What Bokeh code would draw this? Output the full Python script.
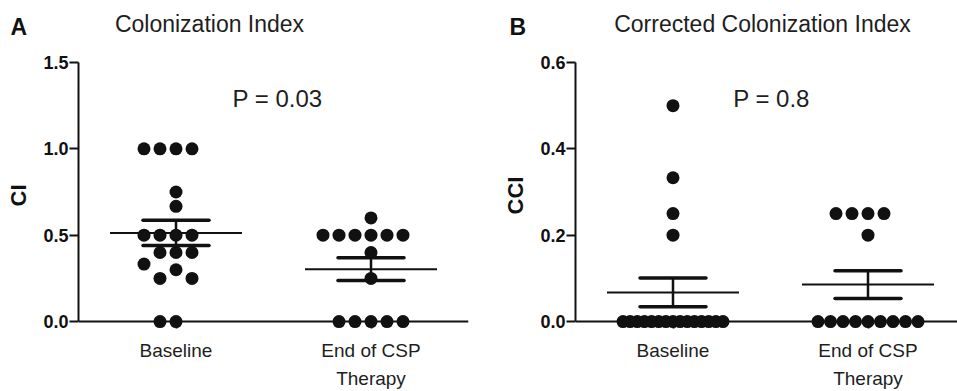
from bokeh.plotting import figure
from bokeh.models import Range1d, FixedTicker, NumeralTickFormatter, Label, Span, ColumnDataSource
from bokeh.layouts import row, column
from bokeh.embed import file_html
from bokeh.resources import INLINE
import numpy as np

# ---------------- data ----------------
categories = ["Baseline", "End of CSP\nTherapy"]

ci_baseline = [1.0, 1.0, 1.0, 1.0, 0.75, 0.667, 0.5, 0.5, 0.5, 0.5,
               0.4, 0.4, 0.4, 0.333, 0.3, 0.25, 0.25, 0.0, 0.0]
ci_end = [0.6, 0.5, 0.5, 0.5, 0.5, 0.5, 0.5, 0.4, 0.25,
          0.0, 0.0, 0.0, 0.0, 0.0]

cci_baseline = [0.5, 0.333, 0.25, 0.2] + [0.0] * 15
cci_end = [0.25, 0.25, 0.25, 0.25, 0.2] + [0.0] * 9

ci_ticks = [0.0, 0.5, 1.0, 1.5]
cci_ticks = [0.0, 0.2, 0.4, 0.6]

panel_letters = ["A", "B"]
panel_titles = ["Colonization Index", "Corrected Colonization Index"]
y_labels = ["CI", "CCI"]
p_values = ["P = 0.03", "P = 0.8"]

# ---------------- style / layout ----------------
FONT = "Liberation Sans"
INK = "#111111"
TXT = "#1e1e1e"
PX_X = 195.0          # pixels per category unit
DOT = 13              # marker diameter (px)
STEP = 16.0           # spacing of dots in a row (px)
MAXW = 100.0          # max width of a row of dots (px)
COLL = 13.0           # collision distance (px)
PAD_PX = 7.0          # frame padding below zero (px)
HEADER_H = 44
PANEL_H = 347
ZERO_PX = 323.0       # page y of value 0
TOP_PX = 62.0         # page y of the top tick
LBL_SHIFT = 9         # label anchor correction (px)


def swarm_offsets(vals, px_y):
    """Greedy dot-plot layout: returns x offsets (in px) for each value."""
    vals = list(vals)
    offs = [0.0] * len(vals)
    placed = []
    for v in sorted(set(vals), reverse=True):
        idx = [i for i in range(len(vals)) if vals[i] == v]
        n = len(idx)
        step = STEP if n == 1 else min(STEP, MAXW / (n - 1))
        cand = [0]
        for k in range(1, 40):
            cand += [-k, k]
        used = set()
        new = []
        for i in idx:
            for k in cand:
                if k in used:
                    continue
                x = k * step
                y = v * px_y
                if all(((x - px) ** 2 + (y - py) ** 2) ** 0.5 >= COLL for px, py in placed):
                    used.add(k)
                    offs[i] = x
                    new.append((x, y))
                    break
        placed += new
    return offs


def panel(groups, ticks, ylabel, pval, width, frame_left, frame_right, p_pos):
    ymax = ticks[-1]
    px_y = (ZERO_PX - TOP_PX) / ymax
    pad = PAD_PX / px_y
    fig_left = frame_left[1]
    x_end = 0.5 + (frame_right - frame_left[0]) / PX_X
    p = figure(width=width, height=PANEL_H,
               x_range=Range1d(0.5, x_end), y_range=Range1d(-pad, ymax),
               output_backend="svg", toolbar_location=None,
               min_border_left=frame_left[0] - fig_left,
               min_border_right=fig_left + width - frame_right,
               min_border_top=int(TOP_PX - HEADER_H),
               min_border_bottom=int(PANEL_H - (ZERO_PX + PAD_PX - HEADER_H)))
    p.grid.visible = False
    p.outline_line_color = None
    p.background_fill_color = "white"
    p.border_fill_color = "white"

    xs_all, ys_all = [], []
    means, sems = [], []
    for j, vals in enumerate(groups):
        offs = swarm_offsets(vals, px_y)
        xs_all += [j + 1 + o / PX_X for o in offs]
        ys_all += list(vals)
        arr = np.array(vals, dtype=float)
        means.append(arr.mean())
        sems.append(arr.std(ddof=1) / np.sqrt(len(arr)))

    src = ColumnDataSource(dict(x=xs_all, y=ys_all))
    p.scatter("x", "y", source=src, size=DOT, fill_color=INK, line_color=INK, line_width=0)

    cx = np.arange(1, len(groups) + 1, dtype=float)
    means = np.array(means)
    sems = np.array(sems)
    half_mean = 66 / PX_X
    half_cap = 33 / PX_X
    p.segment(x0=cx - half_mean, x1=cx + half_mean, y0=means, y1=means,
              line_color=INK, line_width=2)
    p.segment(x0=cx, x1=cx, y0=means - sems, y1=means + sems,
              line_color=INK, line_width=2.5)
    p.segment(x0=np.concatenate([cx - half_cap, cx - half_cap]),
              x1=np.concatenate([cx + half_cap, cx + half_cap]),
              y0=np.concatenate([means + sems, means - sems]),
              y1=np.concatenate([means + sems, means - sems]),
              line_color=INK, line_width=3.5, line_cap="round")

    # zero line acting as x axis line
    p.add_layout(Span(location=0, dimension="width", line_color=INK, line_width=2))

    # x axis
    xa = p.xaxis[0]
    xa.ticker = FixedTicker(ticks=list(cx))
    ov = {}
    for c, lab in zip(cx, categories):
        ov[float(c)] = lab
        ov[int(c)] = lab
    xa.major_label_overrides = ov
    xa.axis_line_color = None
    xa.major_tick_in = int(PAD_PX)
    xa.major_tick_out = 0
    xa.major_tick_line_width = 2
    xa.major_tick_line_color = INK
    xa.minor_tick_line_color = None
    xa.major_label_text_font = FONT
    xa.major_label_text_font_size = "19px"
    xa.major_label_text_color = TXT
    xa.major_label_text_line_height = 1.35
    xa.major_label_standoff = 11

    # y axis
    ya = p.yaxis[0]
    ya.ticker = FixedTicker(ticks=ticks)
    ya.formatter = NumeralTickFormatter(format="0.0")
    ya.bounds = (0, ymax)
    ya.axis_line_width = 2
    ya.axis_line_color = INK
    ya.major_tick_in = 0
    ya.major_tick_out = 9
    ya.major_tick_line_width = 2
    ya.major_tick_line_color = INK
    ya.minor_tick_line_color = None
    ya.major_label_standoff = 1
    ya.major_label_text_font = FONT
    ya.major_label_text_font_style = "bold"
    ya.major_label_text_font_size = "18px"
    ya.major_label_text_color = INK
    ya.axis_label = ylabel
    ya.axis_label_text_font = FONT
    ya.axis_label_text_font_style = "bold"
    ya.axis_label_text_font_size = "22px"
    ya.axis_label_text_color = INK
    ya.axis_label_standoff = 9

    # P value, positioned from page pixels converted to data space
    px, py = p_pos
    py -= LBL_SHIFT
    p.add_layout(Label(x=0.5 + (px - frame_left[0]) / PX_X, y=(ZERO_PX - py) / px_y, text=pval,
                       text_font=FONT, text_font_size="24px", text_color=TXT,
                       text_align="center", text_baseline="alphabetic"))
    return p


# header with panel letters and titles (page pixel space)
header = figure(width=957, height=HEADER_H, title=None,
                x_range=Range1d(0, 957), y_range=Range1d(HEADER_H, 0),
                output_backend="svg", toolbar_location=None, x_axis_type=None, y_axis_type=None,
                min_border=0, min_border_left=0, min_border_right=0, min_border_top=0, min_border_bottom=0)
header.grid.visible = False
header.outline_line_color = None
header.border_fill_color = "white"
letter_pos = [(10, 35), (509, 35)]
title_pos = [(209, 32), (762, 32)]
for letter, lp, title, tp in zip(panel_letters, letter_pos, panel_titles, title_pos):
    header.add_layout(Label(x=lp[0], y=lp[1] - LBL_SHIFT, text=letter, text_font=FONT,
                            text_font_style="bold", text_font_size="23px", text_color=INK,
                            text_align="left", text_baseline="alphabetic"))
    header.add_layout(Label(x=tp[0], y=tp[1] - LBL_SHIFT, text=title, text_font=FONT,
                            text_font_size="23px", text_color=TXT, text_align="center",
                            text_baseline="alphabetic"))

pA = panel([ci_baseline, ci_end], ci_ticks, y_labels[0], p_values[0],
           480, (78, 0), 468, (277, 107))
pB = panel([cci_baseline, cci_end], cci_ticks, y_labels[1], p_values[1],
           477, (575, 480), 957, (771, 107))

layout = column(header, row(pA, pB, spacing=0), spacing=0)
open("out.html", "w").write(file_html(layout, INLINE))
